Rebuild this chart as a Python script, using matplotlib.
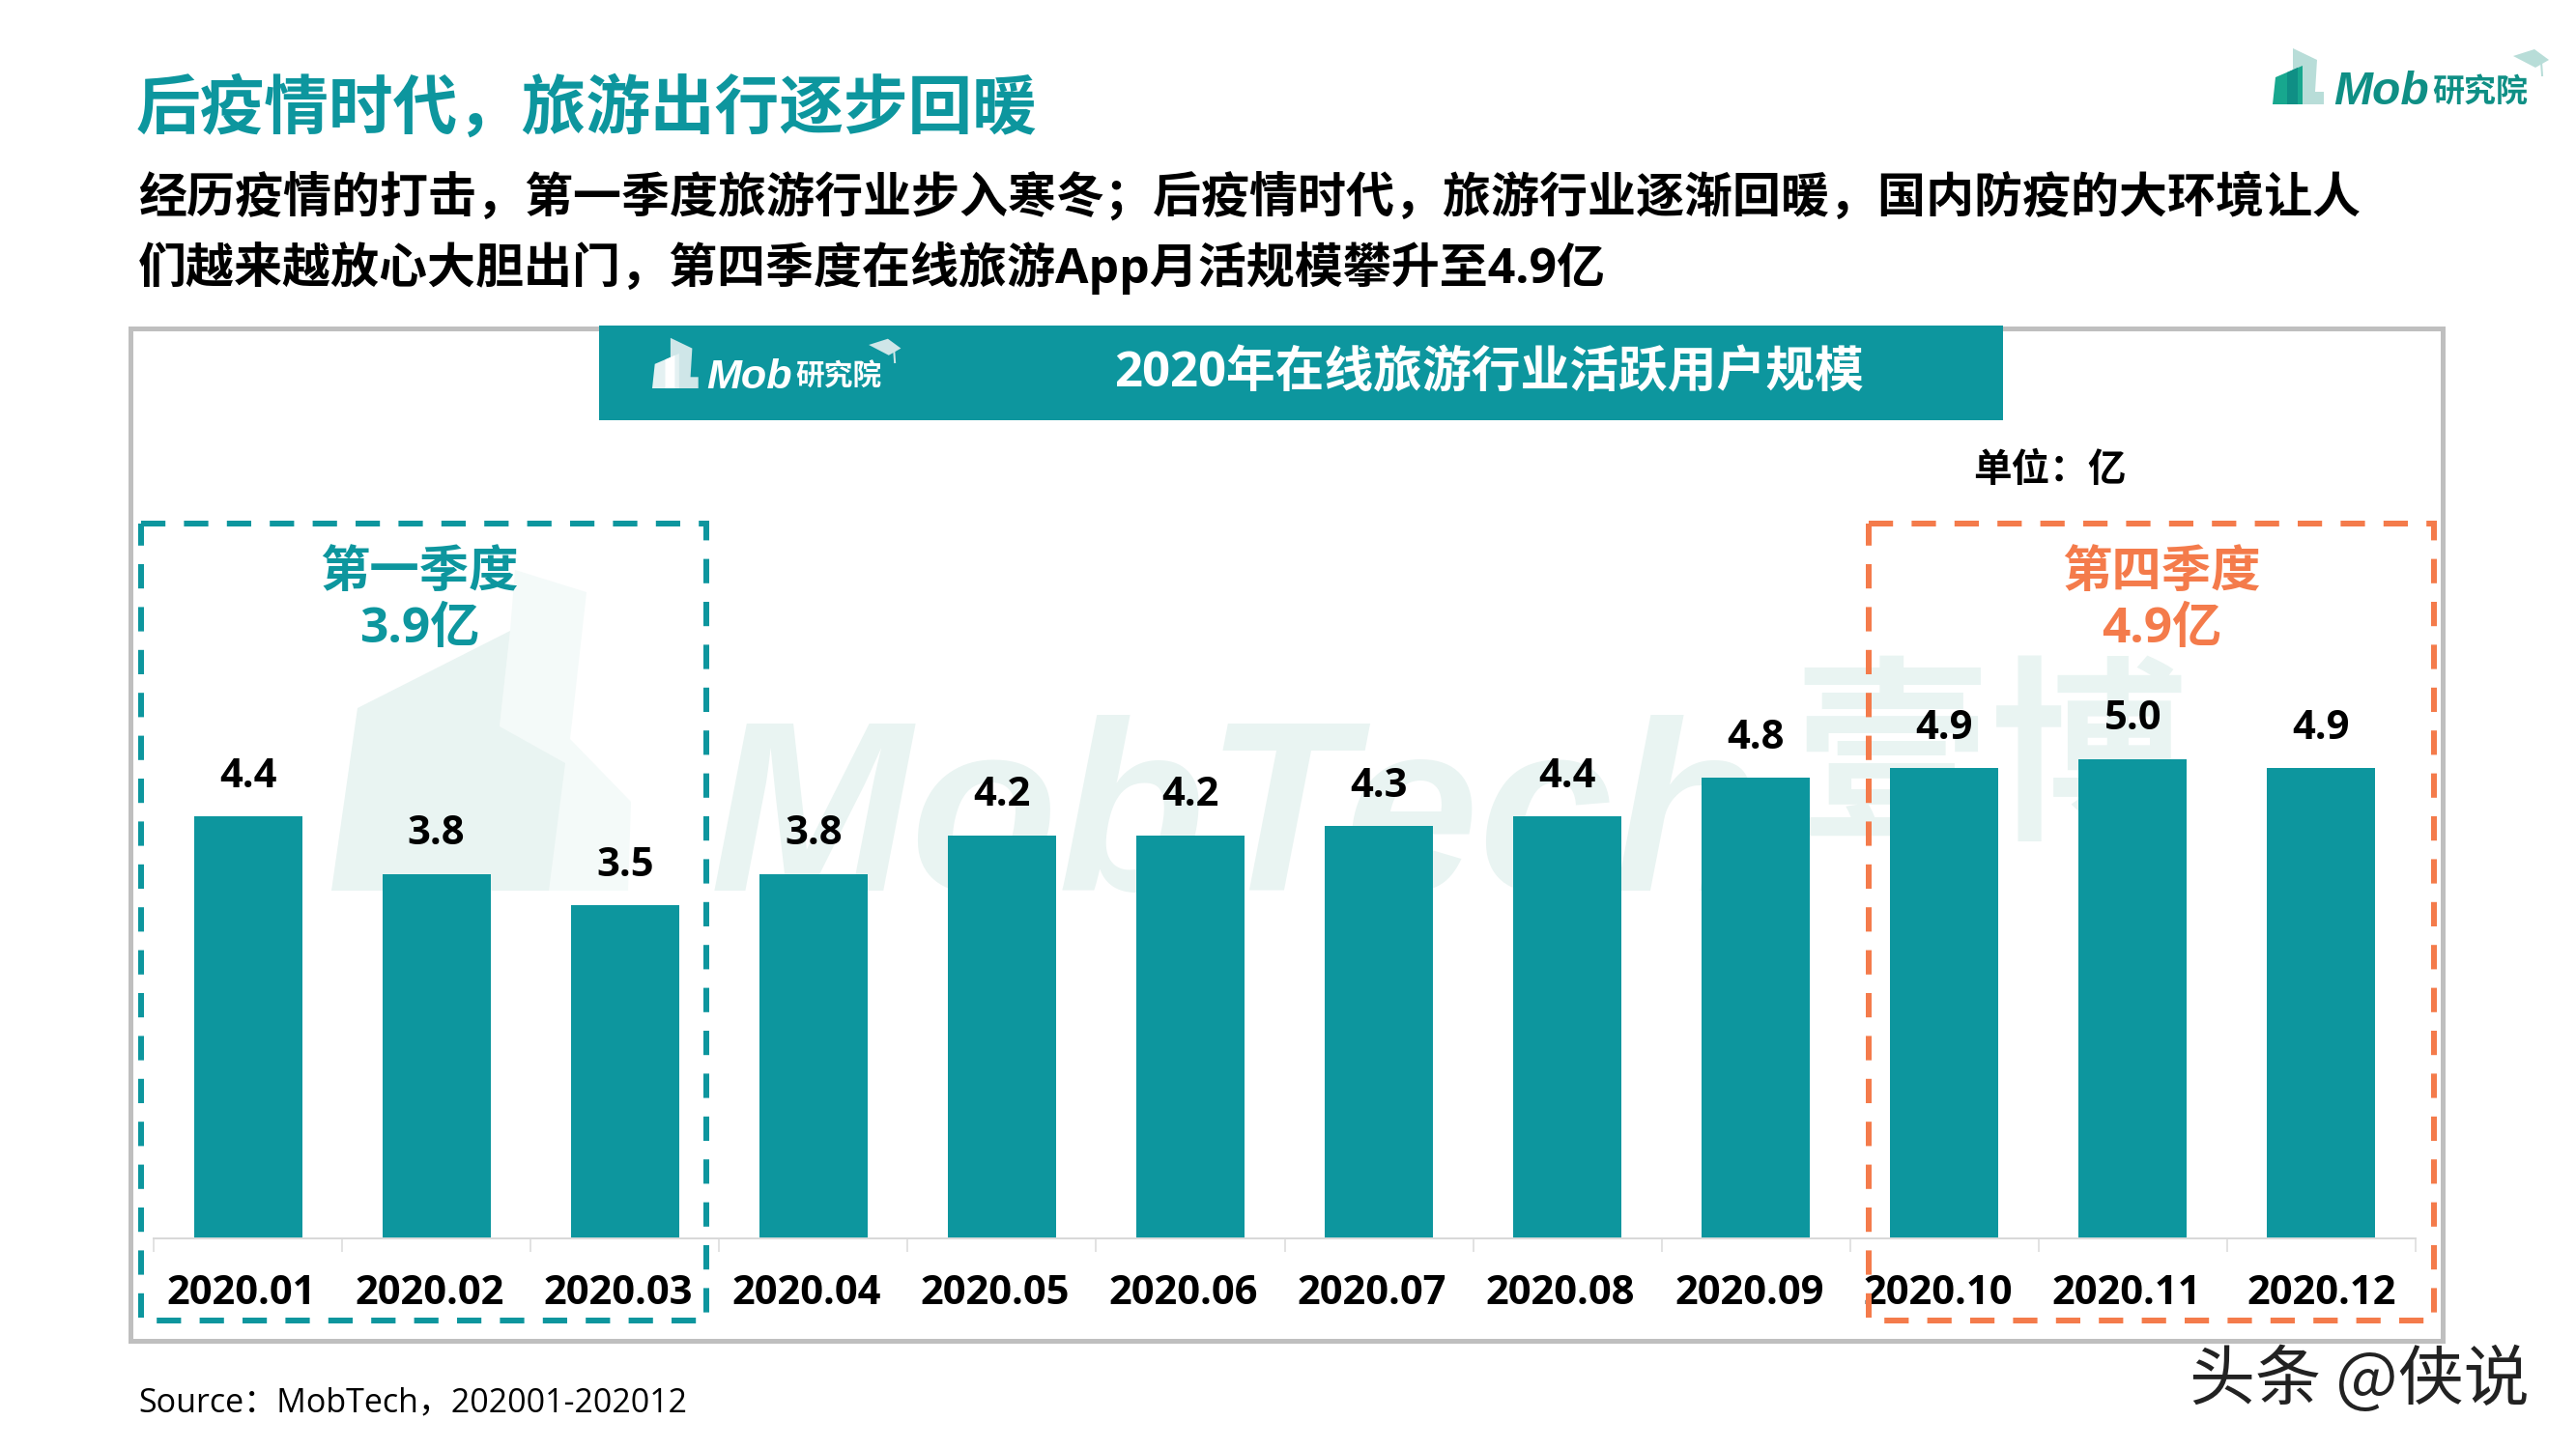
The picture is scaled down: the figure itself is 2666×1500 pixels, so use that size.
import matplotlib
matplotlib.use('Agg')
import matplotlib.pyplot as plt
from matplotlib.patches import Polygon, Rectangle
from matplotlib.transforms import ScaledTranslation

# Data
months = ['2020.01', '2020.02', '2020.03', '2020.04', '2020.05', '2020.06',
          '2020.07', '2020.08', '2020.09', '2020.10', '2020.11', '2020.12']
users = [4.4, 3.8, 3.47, 3.8, 4.2, 4.2, 4.3, 4.4, 4.8, 4.9, 5.0, 4.9]
title = '后疫情时代，旅游出行逐步回暖'
body_1 = '经历疫情的打击，第一季度旅游行业步入寒冬；后疫情时代，旅游行业逐渐回暖，国内防疫的大环境让人'
body_2 = '们越来越放心大胆出门，第四季度在线旅游App月活规模攀升至4.9亿'
chart_title = '2020年在线旅游行业活跃用户规模'
q1_name, q1_value = '第一季度', '3.9亿'
q4_name, q4_value = '第四季度', '4.9亿'

TEAL = '#0D969E'
ORANGE = '#F47B4B'
PALE = '#E9F4F2'
PALER = '#F4FAF9'
LOGO_GREEN = '#17A78E'
LOGO_DARK = '#0F8F85'
LOGO_LIGHT = '#B8DDD8'
MIXED = ['Open Sans', 'Noto Sans CJK SC']
CJK = ['Noto Sans CJK SC', 'DejaVu Sans']

W, H = 2666, 1500
plt.rcParams['font.family'] = MIXED


def pt(px):
    # font sizes and line widths given in pixels of the 100 dpi picture
    return px * 0.72


fig = plt.figure(figsize=(W / 100, H / 100), dpi=100, facecolor='white')


def overlay(z):
    a = fig.add_axes([0, 0, 1, 1], zorder=z)
    a.set_xlim(0, W)
    a.set_ylim(H, 0)
    a.axis('off')
    return a


back = overlay(0)
front = overlay(2)

# Watermark behind the bars
back.add_patch(Polygon([(533, 590), (607, 613), (590, 765), (653, 830), (650, 922), (568, 922),
                        (517, 752), (528, 653)], color=PALER, lw=0))
back.add_patch(Polygon([(343, 922), (370, 733), (528, 653), (517, 752), (585, 790), (568, 922)],
                       color=PALE, lw=0))
back.text(735, 922, 'MobTech', color=PALE, fontsize=pt(250), va='baseline', ha='left',
          family='Liberation Sans', style='italic', weight='bold')
back.text(2060, 793, '壹博', color=PALE, fontsize=pt(205), va='center', ha='center',
          family=CJK, weight='bold')

# Chart frame and header band
back.add_patch(Rectangle((135, 340), 2405 - 12, 1048, fill=False, ec='#BFBFBF', lw=pt(5)))
back.add_patch(Rectangle((620, 337), 1453, 98, color=TEAL, lw=0))

# Bars
base_y, top_y = 1282, 736
x0, x1 = 159, 2500
ax = fig.add_axes([x0 / W, 1 - base_y / H, (x1 - x0) / W, (base_y - top_y) / H], zorder=1)
ax.patch.set_visible(False)
centers = list(range(len(months)))
ax.bar(centers, users, width=0.574, color=TEAL)
ax.set_xlim(-0.5, len(months) - 0.5)
ax.set_ylim(0, (base_y - top_y) / 99.3)
ax.yaxis.set_visible(False)
for side in ['top', 'left', 'right']:
    ax.spines[side].set_visible(False)
ax.spines['bottom'].set_color('#D9D9D9')
ax.spines['bottom'].set_linewidth(pt(2))
ax.set_xticks([c - 0.5 for c in centers] + [len(months) - 0.5], labels=[])
ax.set_xticks(centers, labels=months, minor=True)
ax.tick_params(axis='x', which='major', length=pt(14), width=pt(1.5), color='#D9D9D9')
ax.tick_params(axis='x', which='minor', length=0, pad=pt(58))
for i, lab in enumerate(ax.get_xticklabels(minor=True)):
    dx = 0 if i == len(months) - 1 else -7
    lab.set_transform(lab.get_transform() + ScaledTranslation(dx / 100, 0, fig.dpi_scale_trans))
    lab.set(fontsize=30, weight='bold', color='black', va='center')

for c, v in zip(centers, users):
    ax.annotate(f'{v:.1f}', (c, v), xytext=(0, pt(41)), textcoords='offset points',
                ha='center', va='center', fontsize=30, weight='bold', color='black')

# Quarter boxes
for left, right, mid, col, name, val in [(146, 731, 434, TEAL, q1_name, q1_value),
                                         (1934, 2519, 2248 - 11, ORANGE, q4_name, q4_value)]:
    front.add_patch(Rectangle((left, 542), right - left, 825, fill=False, ec=col, lw=pt(6),
                              ls=(0, (4.2, 3.2))))
    front.text(mid, 594, name, color=col, fontsize=37, weight='bold', ha='center', va='center')
    front.text(mid, 652, val, color=col, fontsize=37, weight='bold', ha='center', va='center')

# Texts around the chart
front.text(141, 113, title, color=TEAL, fontsize=48, weight='bold', va='center', family=CJK)
front.text(143, 206, body_1, color='black', fontsize=36, weight='bold', va='center')
front.text(143, 277, body_2, color='black', fontsize=36, weight='bold', va='center')
front.text(1541, 387, chart_title, color='white', fontsize=36.5, weight='bold', ha='center', va='center')
front.text(2121, 488, '单位：亿', color='black', fontsize=28.5, weight='bold', ha='center', va='center')
front.text(143, 1452, 'Source：MobTech，202001-202012', color='black', fontsize=24.5, va='center')
front.text(2442, 1430, '头条 @侠说', color='#222222', fontsize=49, weight='medium', ha='center', va='center',
           family=CJK)


def logo(a, x, y, back_col, main_col, mid_col, hat_col, text_col, s=1.0):
    # building mark, name and graduation hat; x, y is the lower left corner
    pts = lambda p: [(x + s * u, y - s * v) for u, v in p]
    a.add_patch(Polygon(pts([(21, 58), (46, 46), (44, 13), (53, 13), (53, 0), (21, 0)]), color=back_col, lw=0))
    a.add_patch(Polygon(pts([(0, 0), (3, 28), (31, 40), (31, 0)]), color=main_col, lw=0))
    a.add_patch(Polygon(pts([(15, 33), (26, 38), (26, 0), (15, 0)]), color=mid_col, lw=0))
    a.add_patch(Polygon(pts([(249, 50), (271, 57), (286, 46), (272, 38)]), color=hat_col, lw=0))
    a.plot(*zip(*pts([(278, 44), (279, 30)])), color=hat_col, lw=pt(2))
    a.text(x + 63 * s, y, 'Mob', color=text_col, fontsize=pt(48 * s), weight='bold', style='italic',
           family='Liberation Sans', va='baseline')
    a.text(x + 165 * s, y - 3, '研究院', color=text_col, fontsize=pt(33 * s), weight='bold', family=CJK,
           va='baseline')


logo(front, 2352, 108, LOGO_LIGHT, LOGO_GREEN, LOGO_DARK, LOGO_LIGHT, LOGO_DARK)
logo(back, 675, 402, '#CFE6E8', '#E4F1F2', 'white', '#CFE6E8', 'white', s=0.9)

fig.savefig('out.png', dpi=100, facecolor='white')
